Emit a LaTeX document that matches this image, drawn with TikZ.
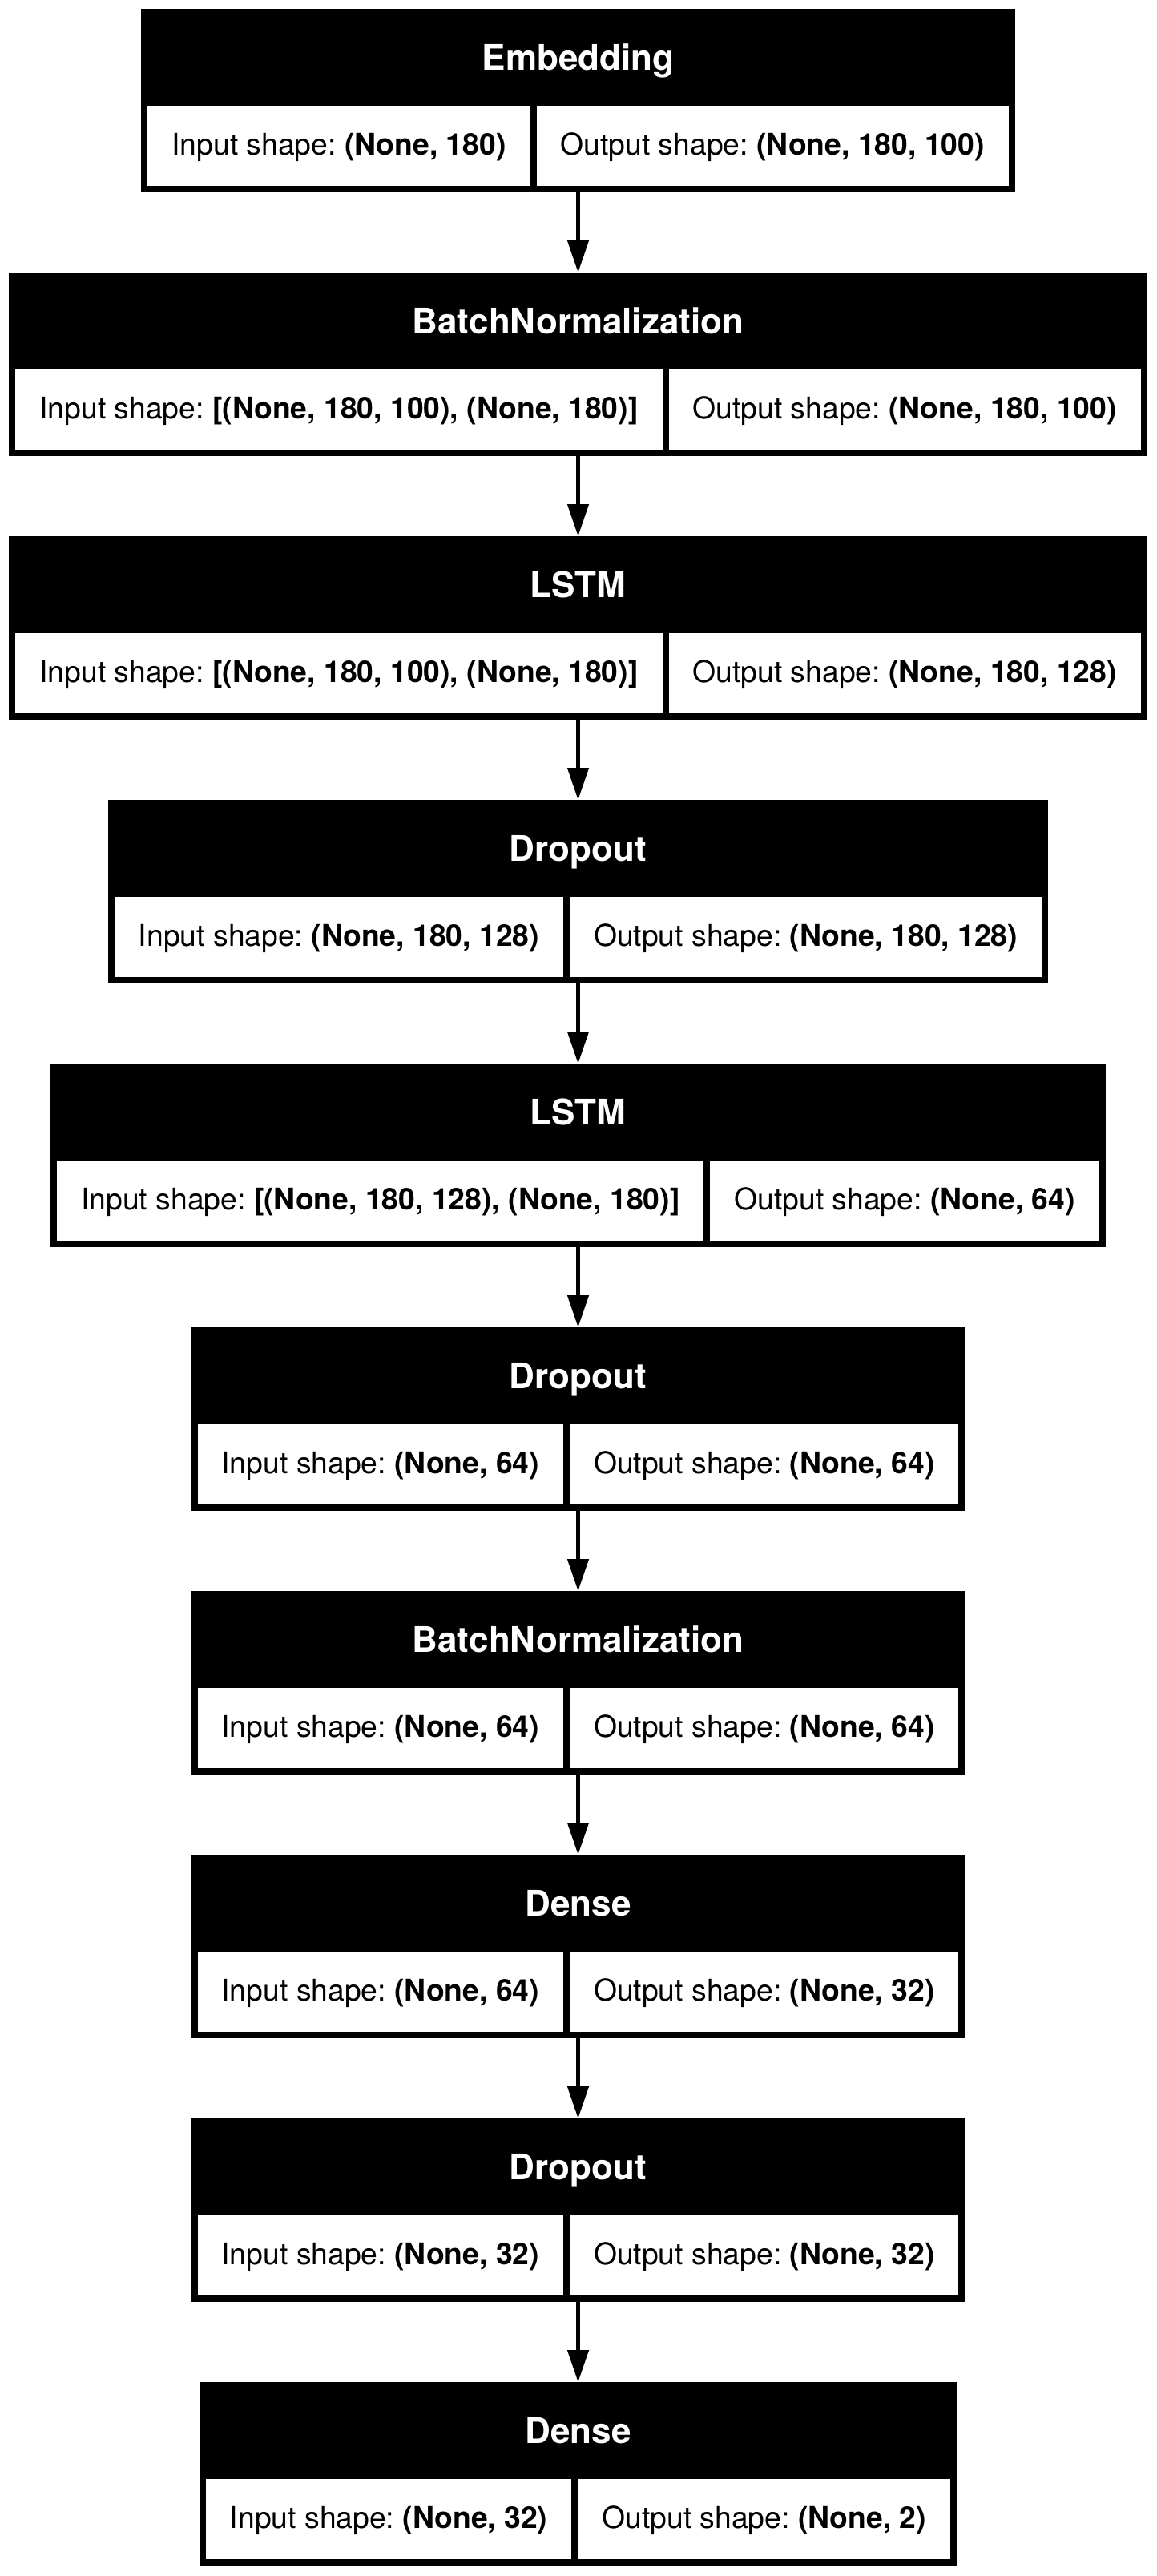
\documentclass[tikz,border=0pt]{standalone}
\usepackage{fontspec}
\setmainfont{TeX Gyre Heros}
\usepackage{tikz}
\usetikzlibrary{fit,positioning,matrix,arrows.meta}
\frenchspacing

\begin{document}
\begin{tikzpicture}[->,>={Triangle[length=20pt,width=13pt]}]
	\pgfdeclarelayer{background}
	\pgfsetlayers{background,main}
	\tikzstyle{every edge}=[draw, line width=2.3pt]
	\tikzstyle{shapecell}=[fill=white, minimum height=50pt, inner xsep=15pt, inner ysep=0pt, outer sep=0pt, text height=14pt, text depth=2.2pt, font=\fontsize{18.65}{22}\selectfont]
	\tikzstyle{headtext}=[text=white, minimum height=60.5pt, inner sep=0pt, outer sep=0pt, text height=15.8pt, text depth=0pt, font=\fontsize{22}{26}\selectfont\bfseries]
	\tikzstyle{block}=[rectangle, fill=black, inner xsep=4pt, inner ysep=0pt, outer sep=0pt]
	\def\layersep{164.5pt}
	\def\midx{360.75pt}
	\useasboundingbox (0,0) rectangle (722pt,-1607pt);
	
	% Draw every layer: two shape cells, the name above them, a black box behind
	\foreach \i/\name/\inp/\outp in {1/Embedding/{(None, 180)}/{(None, 180, 100)},
	  2/BatchNormalization/{[(None, 180, 100), (None, 180)]}/{(None, 180, 100)},
	  3/LSTM/{[(None, 180, 100), (None, 180)]}/{(None, 180, 128)},
	  4/Dropout/{(None, 180, 128)}/{(None, 180, 128)},
	  5/LSTM/{[(None, 180, 128), (None, 180)]}/{(None, 64)},
	  6/Dropout/{(None, 64)}/{(None, 64)},
	  7/BatchNormalization/{(None, 64)}/{(None, 64)},
	  8/Dense/{(None, 64)}/{(None, 32)},
	  9/Dropout/{(None, 32)}/{(None, 32)},
	  10/Dense/{(None, 32)}/{(None, 2)}}
	{
	 \matrix[matrix of nodes, nodes=shapecell, column sep=4pt, inner sep=0pt, outer sep=0pt, anchor=north, ampersand replacement=\&] (M-\i) at (\midx,-66pt-\i*\layersep+\layersep)
	  {Input shape: \textbf{\inp} \& Output shape: \textbf{\outp} \\};
	 \node[headtext, above=0pt of M-\i] (T-\i) {\name};
	 \coordinate (B-\i) at ([yshift=-4pt]M-\i.south);
	 \begin{pgfonlayer}{background}
	  \node[block, fit=(T-\i) (M-\i) (B-\i)] (L-\i) {};
	 \end{pgfonlayer}
	}
	
	% Connect each layer with the next one
	\foreach \src/\dst in {1/2,2/3,3/4,4/5,5/6,6/7,7/8,8/9,9/10}
	 \path (L-\src) edge (L-\dst);
\end{tikzpicture}
\end{document}
